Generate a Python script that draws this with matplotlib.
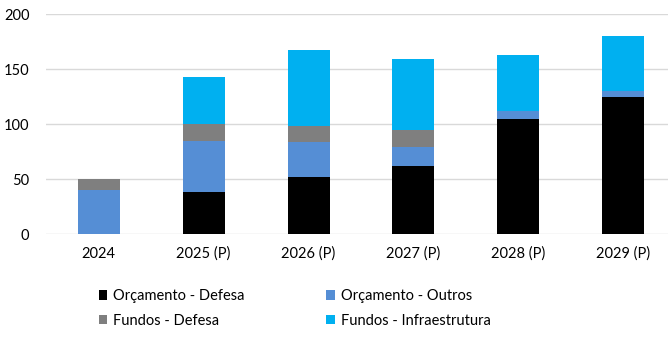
import numpy as np
import matplotlib.pyplot as plt

plt.rcParams['font.family'] = ['Lato', 'DejaVu Sans']

years = ["2024", "2025 (P)", "2026 (P)", "2027 (P)", "2028 (P)", "2029 (P)"]
orc_defesa = [0, 38, 52, 62, 104.5, 125]
orc_outros = [40, 47, 32, 17.5, 7.5, 5]
fundos_defesa = [10, 15, 14, 15, 0, 0]
fundos_infra = [0, 43, 69, 65, 51, 50]

series = [
    ("Orçamento - Defesa", orc_defesa, "#000000"),
    ("Orçamento - Outros", orc_outros, "#558ed5"),
    ("Fundos - Defesa", fundos_defesa, "#7f7f7f"),
    ("Fundos - Infraestrutura", fundos_infra, "#00b0f0"),
]

fig = plt.figure(figsize=(6.68, 3.39), dpi=100)
ax = fig.add_axes([0.069, 0.3097, 0.935, 0.649])

x = np.arange(len(years))
bottom = np.zeros(len(years))
handles = {}
for name, vals, col in series:
    vals = np.array(vals, dtype=float)
    h = ax.bar(x, vals, 0.4, bottom=bottom, color=col, zorder=2)
    handles[name] = h
    bottom += vals

ax.set_xlim(-0.5, 5.45)
ax.set_ylim(0, 200)
ax.set_yticks([0, 50, 100, 150, 200])
ax.grid(axis='y', color='#d9d9d9', linewidth=1, zorder=0)
for s in ax.spines.values():
    s.set_visible(False)
ax.tick_params(axis='both', length=0, labelsize=10.5, colors='#000000')
ax.tick_params(axis='y', pad=12)
ax.tick_params(axis='x', pad=9)
ax.set_xticks(x)
ax.set_xticklabels(years)

order = ["Orçamento - Defesa", "Fundos - Defesa", "Orçamento - Outros", "Fundos - Infraestrutura"]
fig.legend([handles[n] for n in order], order, ncol=2, frameon=False,
           loc='center left', bbox_to_anchor=(0.128, 0.09), fontsize=10.5,
           handlelength=0.6, handleheight=0.6, handletextpad=0.4,
           columnspacing=5.6, labelspacing=0.75)

fig.savefig("out.png", dpi=100)
